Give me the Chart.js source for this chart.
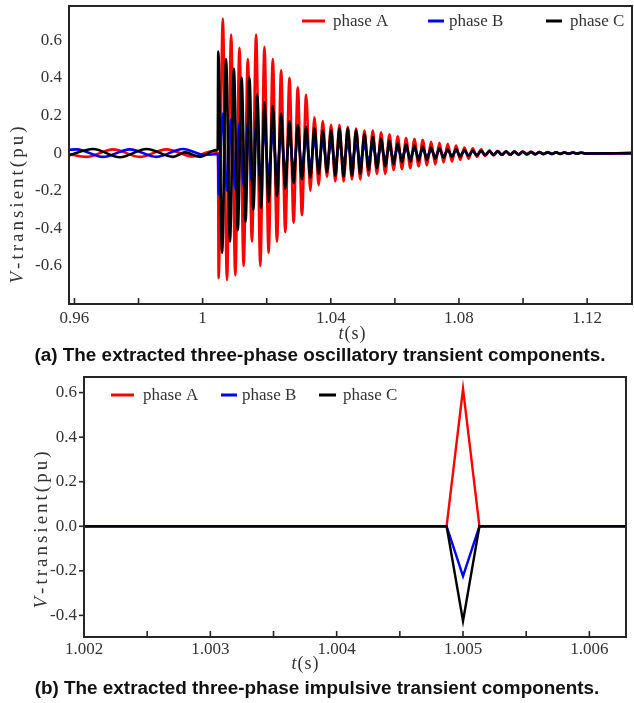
<!DOCTYPE html>
<html>
<head>
<meta charset="utf-8">
<script src="https://cdn.jsdelivr.net/npm/chart.js@4.4.1/dist/chart.umd.min.js"></script>
<style>
body{margin:0;background:#fff;width:634px;height:703px;position:relative;overflow:hidden}
canvas{position:absolute;left:0}
#c1{top:0}
#c2{top:362px}
.cap{position:absolute;left:0;width:634px;text-align:center;font:bold 18.9px "Liberation Sans",Arial,sans-serif;color:#111;white-space:nowrap}
</style>
</head>
<body>
<canvas id="c1" width="634" height="345"></canvas>
<div class="cap" style="top:344px;left:3px">(a) The extracted three-phase oscillatory transient components.</div>
<canvas id="c2" width="634" height="313"></canvas>
<div class="cap" style="top:677px">(b) The extracted three-phase impulsive transient components.</div>
<script>
const phaseNames = ['phase A', 'phase B', 'phase C'];
const phaseColors = ['#ff0000', '#0000ff', '#000000'];

// ---- (a) oscillatory components: extrema ----
// small 60 Hz ripple before the disturbance
const preT_A = [0.9583, 0.96375, 0.97206, 0.98041, 0.98869, 0.99697, 1.0030, 1.0048];
const preV_A = [-0.005, -0.02, 0.02, -0.02, 0.02, -0.018, 0.01, 0.0];
const preT_B = [0.9583, 0.96063, 0.96894, 0.97728, 0.98563, 0.99384, 1.00072, 1.0048];
const preV_B = [0.018, 0.02, -0.02, 0.02, -0.02, 0.022, -0.01, -0.005];
const preT_C = [0.9583, 0.96581, 0.97416, 0.98250, 0.99081, 0.9945, 0.99916, 1.00416, 1.0047];
const preV_C = [-0.012, 0.022, -0.022, 0.022, -0.02, 0.004, -0.02, 0.016, 0.02];

// times of the peaks/troughs after the disturbance (phase A and B)
const postT = [
  1.0050, 1.0063, 1.0076, 1.0089, 1.0102, 1.0115, 1.0128, 1.0141, 1.0154, 1.0167,
  1.0180, 1.0193, 1.0206, 1.0219, 1.0232, 1.0245, 1.0258, 1.0271, 1.0284, 1.0297,
  1.0310, 1.0323, 1.0336, 1.0349, 1.0362, 1.0375, 1.0388, 1.0401, 1.0414, 1.0427,
  1.0440, 1.0453, 1.0466, 1.0479, 1.0492, 1.0505, 1.0518, 1.0531, 1.0544, 1.0557,
  1.0570, 1.0583, 1.0596, 1.0609, 1.0622, 1.0635, 1.0648, 1.0661, 1.0674, 1.0687,
  1.0700, 1.0713, 1.0726, 1.0739, 1.0752, 1.0765, 1.0778, 1.0791, 1.0804, 1.0817,
  1.0830, 1.0843, 1.0856, 1.0869, 1.0882, 1.0895, 1.0908, 1.0921, 1.0934, 1.0947,
  1.0960, 1.0973, 1.0986, 1.0999, 1.1012, 1.1025, 1.1038, 1.1051, 1.1064, 1.1077,
  1.1090, 1.1103, 1.1116, 1.1129, 1.1142, 1.1155, 1.1168, 1.1181, 1.1194
];
const postV_A = [
  -0.665, 0.715, -0.675, 0.63, -0.65, 0.56, -0.60, 0.50, -0.47, 0.63,
  -0.60, 0.565, -0.53, 0.50, -0.47, 0.44, -0.42, 0.40, -0.37, 0.35,
  -0.33, 0.31, -0.20, 0.19, -0.17, 0.17, -0.125, 0.15, -0.15, 0.15,
  -0.15, 0.14, -0.14, 0.13, -0.14, 0.12, -0.12, 0.12, -0.11, 0.11,
  -0.11, 0.10, -0.09, 0.09, -0.085, 0.08, -0.08, 0.075, -0.07, 0.07,
  -0.065, 0.06, -0.06, 0.055, -0.05, 0.05, -0.045, 0.04, -0.035, 0.03,
  -0.03, 0.025, -0.02, 0.02, -0.015, 0.015, -0.012, 0.012, -0.01, 0.01,
  -0.01, 0.01, -0.01, 0.01, -0.008, 0.008, -0.008, 0.007, -0.006, 0.006,
  -0.005, 0.005, -0.005, 0.004, -0.004, 0.004, -0.003, 0.003, -0.003
];
const postV_B = [
  -0.22, 0.21, -0.20, 0.18, -0.19, 0.16, -0.17, 0.15, -0.15, 0.14,
  -0.13, 0.12, -0.12, 0.11, -0.11, 0.10, -0.10, 0.09, -0.09, 0.085,
  -0.08, 0.08, -0.075, 0.07, -0.07, 0.065, -0.06, 0.06, -0.06, 0.055,
  -0.05, 0.05, -0.048, 0.045, -0.045, 0.04, -0.04, 0.038, -0.035, 0.035,
  -0.032, 0.03, -0.03, 0.028, -0.026, 0.025, -0.024, 0.022, -0.02, 0.02,
  -0.02, 0.018, -0.017, 0.016, -0.015, 0.015, -0.014, 0.013, -0.012, 0.012,
  -0.011, 0.01, -0.01, 0.01, -0.009, 0.009, -0.008, 0.008, -0.008, 0.007,
  -0.007, 0.006, -0.006, 0.006, -0.005, 0.005, -0.005, 0.004, -0.004, 0.004,
  -0.004, 0.003, -0.003, 0.003, -0.003, 0.002, -0.002, 0.002, -0.002
];
// phase C swings a bit faster at first, then locks onto the A/B timing
const postT_C_early = [1.00488, 1.00609, 1.00731, 1.00853, 1.00975, 1.01097,
                       1.01216, 1.01338, 1.01459, 1.01581, 1.01703, 1.01825];
const postV_C = [
  0.54, -0.53, 0.50, -0.47, 0.45, -0.41, 0.40, -0.365, 0.40, -0.30, 0.31, -0.29,
  0.27, -0.26, 0.25, -0.23, 0.21, -0.19, 0.17, -0.16, 0.15, -0.14,
  0.14, -0.13, 0.13, -0.11, 0.12, -0.10, 0.12, -0.12, 0.13, -0.125,
  0.13, -0.12, 0.12, -0.11, 0.10, -0.09, 0.085, -0.08, 0.075, -0.07,
  0.065, -0.06, 0.055, -0.05, 0.05, -0.045, 0.04, -0.04, 0.035, -0.035,
  0.03, -0.03, 0.025, -0.025, 0.02, -0.02, 0.02, -0.018, 0.016, -0.015,
  0.014, -0.013, 0.012, -0.011, 0.01, -0.01, 0.01, -0.009, 0.009, -0.008,
  0.008, -0.007, 0.007, -0.006, 0.006, -0.006, 0.005, -0.005, 0.005, -0.004,
  0.004, -0.004, 0.003, -0.003, 0.003, -0.003, 0.002, -0.002
];
const endT = 1.134;

const xTickValsA = [0.96, 0.98, 1.0, 1.02, 1.04, 1.06, 1.08, 1.10, 1.12];
const xTickLabelsA = ['0.96', '', '1', '', '1.04', '', '1.08', '', '1.12'];
const yTickValsA = [-0.6, -0.4, -0.2, 0, 0.2, 0.4, 0.6];
const yTickLabelsA = ['-0.6', '-0.4', '-0.2', '0', '0.2', '0.4', '0.6'];

// ---- (b) impulsive components ----
const impT = [1.002, 1.00487, 1.005, 1.00513, 1.00629];
const impV_A = [0, 0, 0.617, 0, 0];
const impV_B = [0, 0, -0.224, 0, 0];
const impV_C = [0, 0, -0.425, 0, 0];

const xTickValsB = [1.002, 1.0025, 1.003, 1.0035, 1.004, 1.0045, 1.005, 1.0055, 1.006];
const xTickLabelsB = ['1.002', '', '1.003', '', '1.004', '', '1.005', '', '1.006'];
const yTickValsB = [-0.4, -0.2, 0, 0.2, 0.4, 0.6];
const yTickLabelsB = ['-0.4', '-0.2', '0.0', '0.2', '0.4', '0.6'];

function pts(ts, vs) {
  return ts.map((t, i) => ({x: t, y: vs[i]}));
}

const serif = '"Liberation Serif", "Times New Roman", serif';
const tickFont = {family: serif, size: 17};

// draws text char by char so the spaced look of the original labels can be kept
function drawParts(ctx, parts, spacing) {
  let chars = [];
  parts.forEach(p => {
    for (const ch of p.text) chars.push({ch: ch, font: p.font});
  });
  let total = 0;
  chars.forEach(c => { ctx.font = c.font; c.w = ctx.measureText(c.ch).width; total += c.w; });
  total += spacing * (chars.length - 1);
  let x = -total / 2;
  chars.forEach(c => {
    ctx.font = c.font;
    ctx.fillText(c.ch, x, 0);
    x += c.w + spacing;
  });
}

const framePlugin = {
  id: 'frame',
  afterDraw(chart, args, o) {
    const ctx = chart.ctx;
    const a = chart.chartArea;
    const xs = chart.scales.x, ys = chart.scales.y;
    ctx.save();
    ctx.strokeStyle = '#262626';
    ctx.lineWidth = 1.6;
    xs.ticks.forEach(t => {
      const p = xs.getPixelForValue(t.value);
      ctx.beginPath();
      ctx.moveTo(p, a.bottom);
      ctx.lineTo(p, a.bottom - o.xTickLen);
      ctx.stroke();
    });
    if (o.yTickLen) {
      ys.ticks.forEach(t => {
        const p = ys.getPixelForValue(t.value);
        ctx.beginPath();
        ctx.moveTo(a.left - o.yTickLen, p);
        ctx.lineTo(a.left, p);
        ctx.stroke();
      });
    }
    ctx.lineWidth = 2;
    ctx.strokeRect(a.left, a.top, a.right - a.left, a.bottom - a.top);

    // legend
    ctx.textBaseline = 'middle';
    chart.data.datasets.forEach((ds, i) => {
      const it = o.legend[i];
      ctx.strokeStyle = ds.borderColor;
      ctx.lineWidth = 3;
      ctx.beginPath();
      ctx.moveTo(it[0], o.legendY);
      ctx.lineTo(it[1], o.legendY);
      ctx.stroke();
      ctx.fillStyle = '#333';
      ctx.font = '17px ' + serif;
      ctx.textAlign = 'left';
      ctx.fillText(ds.label, it[2], o.legendY + 1);
    });

    // axis titles
    ctx.fillStyle = '#333';
    ctx.textAlign = 'left';
    ctx.save();
    ctx.translate(o.yTitle[0], o.yTitle[1]);
    ctx.rotate(-Math.PI / 2);
    drawParts(ctx, [{text: 'V', font: 'italic 19px ' + serif}, {text: '-transient(pu)', font: '19px ' + serif}], 3);
    ctx.restore();
    ctx.save();
    ctx.translate(o.xTitle[0], o.xTitle[1]);
    drawParts(ctx, [{text: 't', font: 'italic 18px ' + serif}, {text: '(s)', font: '18px ' + serif}], 1);
    ctx.restore();
    ctx.restore();
  }
};

function makeChart(id, datasets, cfg) {
  return new Chart(document.getElementById(id), {
    type: 'line',
    data: {
      datasets: datasets.map((d, i) => ({
        label: phaseNames[i],
        data: d,
        borderColor: phaseColors[i],
        borderWidth: cfg.lineWidth,
        pointRadius: 0,
        fill: false,
        cubicInterpolationMode: cfg.smooth ? 'monotone' : 'default',
        tension: 0,
        order: 3 - i
      }))
    },
    options: {
      responsive: false,
      animation: false,
      devicePixelRatio: 1,
      layout: {padding: cfg.padding},
      plugins: {legend: {display: false}, tooltip: {enabled: false}, frame: cfg.frame},
      scales: {
        x: {
          type: 'linear',
          min: cfg.xMin, max: cfg.xMax,
          grid: {display: false, drawTicks: false},
          border: {display: false},
          afterBuildTicks: s => { s.ticks = cfg.xTicks.map(v => ({value: v})); },
          afterFit: s => { s.height = cfg.xAxisH; s.paddingLeft = 0; s.paddingRight = 0; },
          ticks: {
            font: tickFont, color: '#333', padding: cfg.xLabelPad, autoSkip: false, maxRotation: 0,
            callback: (v, i) => cfg.xLabels[i]
          }
        },
        y: {
          min: cfg.yMin, max: cfg.yMax,
          grid: {display: false, drawTicks: false},
          border: {display: false},
          afterBuildTicks: s => { s.ticks = cfg.yTicks.map(v => ({value: v})); },
          afterFit: s => { s.width = cfg.yAxisW; s.paddingTop = 0; s.paddingBottom = 0; },
          ticks: {
            font: tickFont, color: '#333', padding: 7, autoSkip: false,
            callback: (v, i) => cfg.yLabels[i]
          }
        }
      }
    },
    plugins: [framePlugin]
  });
}

const blackT = preT_C.concat(postT_C_early, postT.slice(11), [endT]);

makeChart('c1', [
  pts(preT_A.concat(postT, [endT]), preV_A.concat(postV_A, [0])),
  pts(preT_B.concat(postT, [endT]), preV_B.concat(postV_B, [0])),
  pts(blackT, preV_C.concat(postV_C, [0]))
], {
  lineWidth: 2.6, smooth: true,
  padding: {top: 6, right: 2, left: 0, bottom: 0},
  xMin: 0.9583, xMax: endT, yMin: -0.802, yMax: 0.782,
  xTicks: xTickValsA, xLabels: xTickLabelsA, yTicks: yTickValsA, yLabels: yTickLabelsA,
  xAxisH: 41, yAxisW: 69, xLabelPad: 4,
  frame: {xTickLen: 6, yTickLen: 0, legendY: 21,
          legend: [[302, 325, 333], [428, 444, 449], [546, 562, 570]],
          yTitle: [18, 205], xTitle: [352, 334]}
});

makeChart('c2', [
  pts(impT, impV_A), pts(impT, impV_B), pts(impT, impV_C)
], {
  lineWidth: 2.4, smooth: false,
  padding: {top: 15, right: 8, left: 0, bottom: 0},
  xMin: 1.002, xMax: 1.00629, yMin: -0.497, yMax: 0.670,
  xTicks: xTickValsB, xLabels: xTickLabelsB, yTicks: yTickValsB, yLabels: yTickLabelsB,
  xAxisH: 38, yAxisW: 84, xLabelPad: 2,
  frame: {xTickLen: 6, yTickLen: 5, legendY: 33,
          legend: [[111, 134, 143], [221, 237, 242], [319, 336, 343]],
          yTitle: [42, 168], xTitle: [305, 302]}
});
</script>
</body>
</html>
